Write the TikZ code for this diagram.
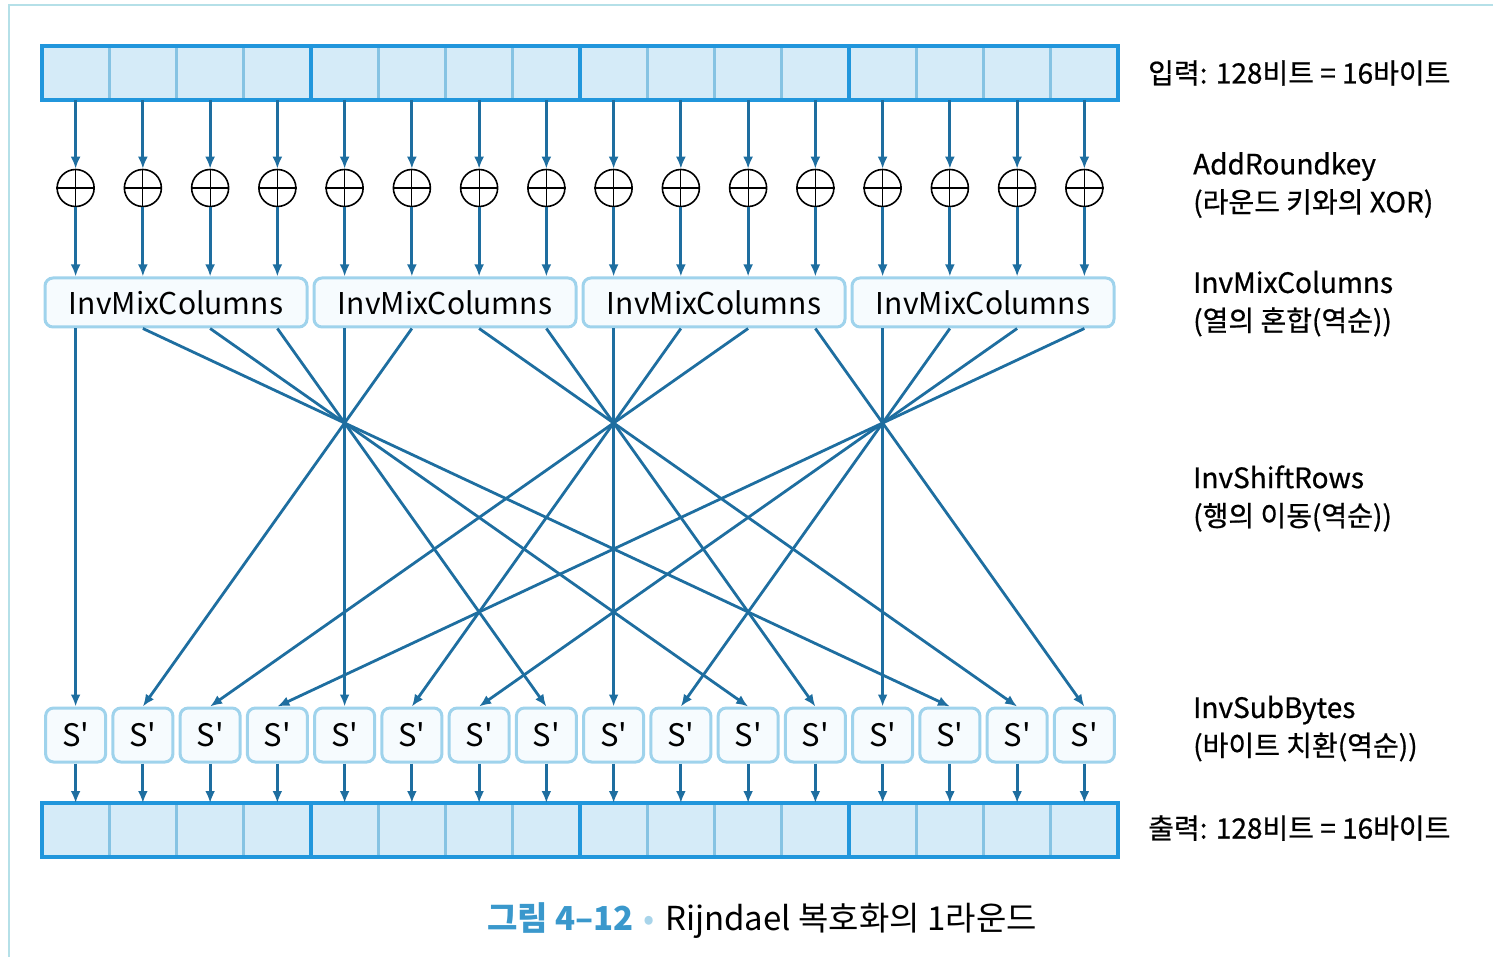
\documentclass[tikz,border=0pt]{standalone}
\usepackage{fontspec}
\setmainfont{Noto Sans CJK KR}
\newfontfamily\labelfont[FakeBold=0.7]{Noto Sans CJK KR}
\usepackage{tikz}
\usetikzlibrary{arrows.meta,positioning}
\definecolor{wireblue}{HTML}{1E6EA0}
\definecolor{cellfill}{HTML}{D5EBF8}
\definecolor{cellline}{HTML}{86C3E3}
\definecolor{barblue}{HTML}{2196DC}
\definecolor{boxline}{HTML}{9FD3EC}
\definecolor{boxfill}{HTML}{F6FBFE}
\definecolor{framecyan}{HTML}{B5E0E8}
\definecolor{capblue}{HTML}{3A98CC}
\definecolor{dotblue}{HTML}{A8D4EA}

\begin{document}
\begin{tikzpicture}[x=1pt,y=-1pt,
  wire/.style={draw=wireblue,line width=2.8pt,-{Latex[length=12pt,width=10pt]}},
  cell/.style={draw=cellline,line width=3pt,fill=cellfill,minimum width=67.25pt,
    minimum height=54pt,inner sep=0pt,outer sep=0pt},
  barline/.style={draw=barblue,line width=3.5pt},
  xorop/.style={circle,draw=black,line width=1.6pt,minimum size=37pt,inner sep=0pt},
  mixbox/.style={rectangle,rounded corners=8pt,draw=boxline,line width=3pt,fill=boxfill,
    minimum width=262pt,minimum height=49pt,inner sep=0pt,font=\fontsize{30}{30}\selectfont},
  sbox/.style={rectangle,rounded corners=8pt,draw=boxline,line width=3pt,fill=boxfill,
    minimum width=60pt,minimum height=54pt,inner sep=0pt,font=\fontsize{31}{31}\selectfont},
  steplabel/.style={anchor=west,align=left,inner sep=0pt,
    font=\labelfont\fontsize{28}{38}\selectfont}]
  \useasboundingbox (0,0) rectangle (1493,957);
  \draw[draw=framecyan,line width=2pt] (9,957) -- (9,5) -- (1493,5);

  \foreach \g in {0,...,3}
    \node[mixbox] (mc\g) at ({176+269*\g},302.5) {InvMixColumns};

  \foreach \i in {0,...,15} {
    \node[cell] (in\i) at ({42+67.25*(\i+0.5)},73) {};
    \node[cell] (out\i) at ({42+67.25*(\i+0.5)},830) {};
    \node[xorop] (x\i) at ({42+67.25*(\i+0.5)},188) {};
    \node[sbox] (sb\i) at ({42+67.25*(\i+0.5)},735) {S\textquotesingle};
  }
  \draw[barline] (in0.north west) rectangle (in15.south east);
  \draw[barline] (out0.north west) rectangle (out15.south east);
  \foreach \g in {4,8,12} {
    \draw[barline] (in\g.north west) -- (in\g.south west);
    \draw[barline] (out\g.north west) -- (out\g.south west);
  }

  \foreach \i in {0,...,15} {
    \pgfmathtruncatemacro\g{int(\i/4)}
    \draw[line width=1.2pt] (x\i.north) -- (x\i.south) (x\i.west) -- (x\i.east);
    \draw[wire] (in\i.south) -- (x\i.north);
    \draw[wire] (x\i.south) -- (x\i.south |- mc\g.north);
    \draw[wire] (sb\i.south) -- (out\i.north);
  }

  \foreach \c in {0,...,3}
    \foreach \r in {0,...,3} {
      \pgfmathtruncatemacro\dst{4*\c+\r}
      \pgfmathtruncatemacro\g{mod(\c+\r,4)}
      \pgfmathtruncatemacro\src{4*\g+\r}
      \draw[wire] (sb\src.north |- mc\g.south) -- (sb\dst.north);
    }

  \node[steplabel] (lin) at (1148,73) {입력: 128비트 = 16바이트};
  \node[steplabel] (lark) at (1193,185) {AddRoundkey\\(라운드 키와의 XOR)};
  \node[steplabel] (lmc) at (1193,303.5) {InvMixColumns\\(열의 혼합(역순))};
  \node[steplabel] (lsr) at (1193,498.5) {InvShiftRows\\(행의 이동(역순))};
  \node[steplabel] (lsb) at (1193,728.5) {InvSubBytes\\(바이트 치환(역순))};
  \node[steplabel] (lout) at (1148,828) {출력: 128비트 = 16바이트};

  \node[inner sep=0pt,font=\fontsize{33}{33}\selectfont] (cap) at (762,921)
    {{\bfseries\color{capblue}그림 4–12}\hspace{10pt}{\color{dotblue}\textbullet}\hspace{10pt}Rijndael 복호화의 1라운드};
\end{tikzpicture}
\end{document}
